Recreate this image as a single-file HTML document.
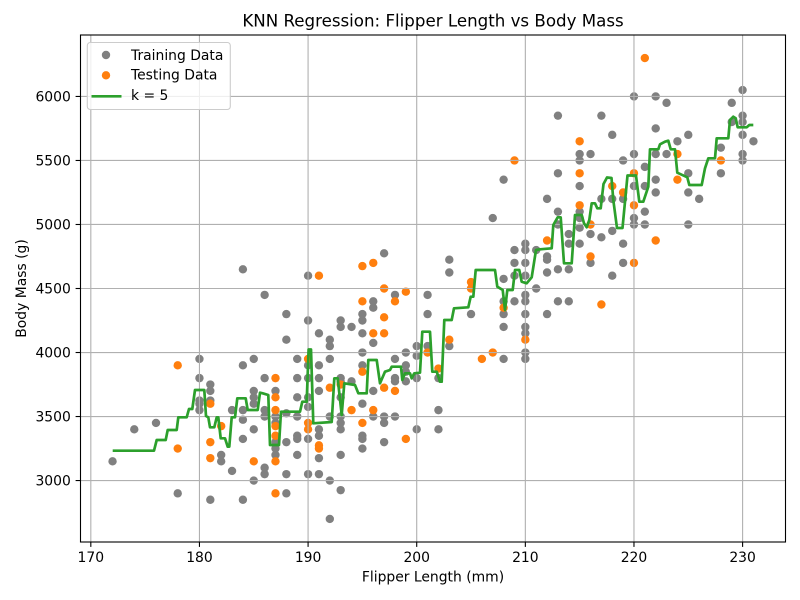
<!DOCTYPE html>
<html><head><meta charset="utf-8"><style>
html,body{margin:0;padding:0;background:#fff;}
svg{display:block;font-family:"DejaVu Sans","Liberation Sans",sans-serif;}
</style></head><body>
<svg id="s" width="800" height="600" viewBox="0 0 800 600" xmlns="http://www.w3.org/2000/svg">
<rect x="0" y="0" width="800" height="600" fill="#fff"/>
<g id="tr" fill="#808080"></g>
<g id="te" fill="#ff7f0e"></g>
<g id="grid" stroke="#b0b0b0" stroke-width="1.1"></g>
<polyline id="knn" fill="none" stroke="#2ca02c" stroke-width="2.7" stroke-linejoin="round" points="112.7,450.7 154,450.7 156.7,440 165.7,440 167.7,430 176.7,430 178.3,417.3 186.7,417.3 189,409 192.3,409 195,390 204.3,390 206,416 208.3,417.3 210,427.3 214.3,427.3 216.7,417.3 218.3,417.3 220.7,438.3 225,438.3 227.7,446.7 229.3,446.7 231.7,417.3 235,417.3 237.3,398.3 245.7,398.3 247.7,410 257.7,410 260,392.7 262.7,393.3 268.3,395 270,445 279,445 281,411.7 300,411.7 302.3,401.7 306.7,401.7 308.6,349.5 311,349.5 313.3,423.3 331.7,422 334.3,378.3 337.7,378.3 341.7,415 344.3,383.3 355,385 358.3,393.3 366.7,393.3 368.3,360 376.7,360 380,383.3 385,371.7 390,370 391.7,366.7 401,366.7 402.3,380 405,373.3 410,373.3 411.7,378.3 414.3,373.3 420,372.7 422.3,331.7 430,331.7 432.3,371.7 436.7,371.7 440,381.7 441.7,381.7 444.3,320 451.7,320 454,308.3 468.3,307.3 470.7,296.7 473.3,296.7 475.7,270 495,270 497.3,286.7 502.7,290 505,310 507.3,290 512.7,290 515,270 519.3,270 521.7,281.7 526.7,283.3 531.7,277.3 536,250 540,249.3 551.7,248.3 553.3,225 557.7,217.3 560.7,217.3 564,263.3 571.7,263.3 575,215 581.7,215 584,223.3 586.7,227.3 589.3,220 591.7,203.3 595,203.3 597.3,208.3 600.7,208.3 603.5,184 607,177.5 611.5,178 613.3,200 617,228 622.5,228 627.5,175.5 636,175.5 639.3,201.7 643.3,201.7 648.3,186.7 650,149.3 658.3,149.3 660,144.3 665,141.7 668.3,140.7 670.7,149.3 675,149.3 677.3,172.7 687.3,177.3 689.3,185 701.7,185 705,168.3 708.3,158.3 715,158.3 716.7,138.3 728.3,138.3 730,120 733.3,116.7 735.7,118.3 737.7,127.3 746.7,127.3 749.3,125 753.3,125"/>
<rect x="80.5" y="35" width="705" height="507" fill="none" stroke="#000" stroke-width="1.1"/>
<g id="ticks" stroke="#000" stroke-width="1.1"></g>
<g id="tl" font-size="13.9" fill="#000"></g>
<text x="433" y="26.7" font-size="16.67" text-anchor="middle" fill="#000">KNN Regression: Flipper Length vs Body Mass</text>
<text x="433" y="581.5" font-size="13.9" text-anchor="middle" fill="#000">Flipper Length (mm)</text>
<text x="26" y="288.5" font-size="13.9" text-anchor="middle" fill="#000" transform="rotate(-90 26 288.5)">Body Mass (g)</text>
<g>
<rect x="87.3" y="42.5" width="143" height="67" rx="3" ry="3" fill="#fff" fill-opacity="0.8" stroke="#cccccc" stroke-width="1.1"/>
<circle cx="106" cy="55" r="4.2" fill="#808080"/>
<circle cx="106" cy="75.3" r="4.2" fill="#ff7f0e"/>
<line x1="91.5" y1="96.3" x2="121.5" y2="96.3" stroke="#2ca02c" stroke-width="2.7"/>
<text x="131" y="60" font-size="13.9" fill="#000">Training Data</text>
<text x="131" y="79.6" font-size="13.9" fill="#000">Testing Data</text>
<text x="131" y="100.2" font-size="13.9" fill="#000">k = 5</text>
</g>
</svg>
<script>
(function(){
var X=function(v){return 80.5+(v-169.05)*10.863;};
var Y=function(v){return 542-(v-2520)*0.12803;};
var NS="http://www.w3.org/2000/svg";
var tr={172:[3150],174:[3400],176:[3450],178:[2900],
180:[3950,3800,3625,3600,3550],181:[3750,3700,3625,2850],182:[3200,3150],183:[3550,3075],
184:[4650,3900,3550,3475,3325,2850],185:[3950,3700,3650,3600,3400,3000],186:[4450,3800,3550,3500,3100,3050],
187:[3700,3500,3450,3300,3250,3200],188:[4300,4100,3525,3300,3050,2900],189:[3950,3800,3650,3500,3350,3325,3200],
190:[4600,4250,3900,3800,3650,3575,3325,3050],191:[4150,3900,3800,3700,3400,3350,3175,3050],
192:[4100,4050,3950,3500,3000,2700],193:[4250,4200,3800,3775,3650,3500,3450,3400,3200,2925],194:[4200,3775],
195:[4300,4250,4150,4000,3900,3600,3350,3325,3250],196:[4400,4350,4075,3700,3500],197:[4775,3500,3450,3300],
198:[4450,3950,3800,3775,3500],199:[4000,3900,3850,3775],200:[4050,3975,3800,3400],201:[4450,4300,4050],
202:[3800,3550,3400],203:[4725,4625,4050],205:[4300],207:[5050],208:[5350,4575,4400,4300,4200,3950],
209:[4800,4700,4600,4400],210:[4850,4800,4700,4600,4450,4400,4300,4200,4150,4000,3950],211:[4800,4500],
212:[5200,4750,4725,4625,4300],213:[5850,5400,5100,5000,4650,4400],214:[4925,4850,4650,4400],
215:[5550,5500,5300,5100,5050,4975,4850],216:[5550,4925,4700],217:[5850,5200,4900],218:[5700,5200,4950,4600],
219:[5500,5200,4850,4700],220:[6000,5550,5300,5050,5000],221:[5450,5300,5100,5000],222:[6000,5750,5550,5350,5250],
223:[5950,5550],224:[5650],225:[5700,5400,5250,5000],226:[5200],228:[5600,5400],229:[5950,5800],
230:[6050,5850,5800,5700,5550,5500],231:[5650]};
var te={178:[3900,3250],181:[3600,3300,3175],182:[3425],185:[3150],187:[3800,3650,3550,3425,3350,3150,2900],
190:[3950,3450,3400],191:[4600,3275,3250],192:[3725],193:[3750],194:[3550],195:[4675,4400,3850,3450],
196:[4700,4150,3550],197:[4500,4275,4150,3725],198:[4400,3700],199:[4475,3325],201:[4000],202:[3875],203:[4100],
205:[4550,4500],206:[3950],207:[4000],208:[4350],209:[5500],210:[4100],212:[4875],215:[5650,5400,5150],
216:[5000,4750],217:[4375],218:[5300],219:[5250],220:[5400,5150,4700],221:[6300],222:[4875],224:[5550,5350],228:[5500]};
function pts(d,id){var g=document.getElementById(id);for(var k in d){var a=d[k];for(var i=0;i<a.length;i++){var c=document.createElementNS(NS,"circle");c.setAttribute("cx",X(+k).toFixed(2));c.setAttribute("cy",Y(a[i]).toFixed(2));c.setAttribute("r","4.2");g.appendChild(c);}}}
pts(tr,"tr");pts(te,"te");
var grid=document.getElementById("grid"),ticks=document.getElementById("ticks"),tl=document.getElementById("tl");
function ln(g,x1,y1,x2,y2){var l=document.createElementNS(NS,"line");l.setAttribute("x1",x1);l.setAttribute("y1",y1);l.setAttribute("x2",x2);l.setAttribute("y2",y2);g.appendChild(l);}
function tx(x,y,s,anchor){var t=document.createElementNS(NS,"text");t.setAttribute("x",x);t.setAttribute("y",y);t.setAttribute("text-anchor",anchor);t.textContent=s;tl.appendChild(t);}
for(var v=170;v<=230;v+=10){var x=X(v);ln(grid,x,35,x,542);ln(ticks,x,542,x,546.9);tx(x,561.9,""+v,"middle");}
for(var w=3000;w<=6000;w+=500){var y=Y(w);ln(grid,80.5,y,785.5,y);ln(ticks,75.6,y,80.5,y);tx(70.8,y+5,""+w,"end");}
})();
</script>
</body></html>
